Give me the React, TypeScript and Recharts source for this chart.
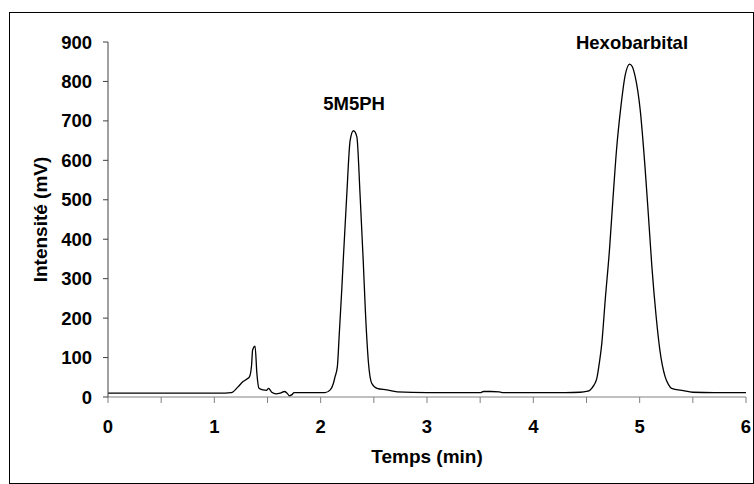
import React from 'react';
import { LineChart, Line, XAxis, YAxis, ReferenceDot } from 'recharts';

const timeMin = [
  0, 0.5, 1.0, 1.1, 1.16, 1.22, 1.27, 1.31, 1.33, 1.35, 1.36, 1.383, 1.4, 1.42, 1.46, 1.49,
  1.51, 1.54, 1.58, 1.62, 1.66, 1.69, 1.705, 1.73, 1.75, 1.9, 2.04, 2.09, 2.12, 2.135, 2.157,
  2.175, 2.198, 2.214, 2.245, 2.277, 2.308, 2.34, 2.37, 2.4, 2.42, 2.45, 2.48, 2.53, 2.62,
  2.72, 3.0, 3.3, 3.5, 3.53, 3.6, 3.68, 3.72, 4.0, 4.3, 4.44, 4.5, 4.535, 4.57, 4.597, 4.62,
  4.644, 4.676, 4.716, 4.748, 4.785, 4.82, 4.864, 4.905, 4.93, 4.958, 5.005, 5.05, 5.083,
  5.115, 5.155, 5.19, 5.24, 5.27, 5.3, 5.41, 5.5, 5.7, 6.0,
];

const intensityMv = [
  10, 10, 10, 10, 11, 25, 39, 46, 51, 80, 119, 129, 60, 22, 18, 17,
  22, 12, 8, 10, 14, 8, 3, 6, 11, 11, 11, 18, 35, 51, 77,
  160, 270, 355, 510, 650, 675, 660, 516, 347, 221, 85, 35, 22, 18,
  13, 11, 11, 11, 14, 14, 13, 11, 11, 11, 12, 14, 18, 30, 47, 85,
  136, 246, 373, 499, 635, 728, 816, 844, 838, 812, 728, 584, 457,
  330, 204, 119, 51, 32, 22, 16, 12, 11, 11,
];

const xTicks = [0, 0.5, 1, 1.5, 2, 2.5, 3, 3.5, 4, 4.5, 5, 5.5, 6];
const yTicks = [0, 100, 200, 300, 400, 500, 600, 700, 800, 900];

const peakLabels = [
  { name: '5M5PH', t: 2.314, v: 743 },
  { name: 'Hexobarbital', t: 4.928, v: 898 },
];

const data = timeMin.map((t, i) => ({ t, v: intensityMv[i] }));

const font = "'Liberation Sans', Arial, sans-serif";
const tickStyle = { fontFamily: font, fontSize: 18.5, fontWeight: 700, fill: '#000' };
const titleStyle = { ...tickStyle, fontSize: 19 };

export default function App() {
  return (
    <div style={{ position: 'absolute', left: 0, top: 0, width: 754, height: 484, background: '#fff' }}>
      <div
        style={{
          position: 'absolute', left: 9, top: 12, width: 743, height: 470,
          border: '1px solid #000',
        }}
      />
      <LineChart
        width={754}
        height={484}
        data={data}
        margin={{ top: 42, right: 8, left: 35, bottom: 57 }}
        style={{ position: 'absolute', left: 0, top: 0 }}
      >
        <XAxis
          dataKey="t"
          type="number"
          domain={[0, 6]}
          ticks={xTicks}
          interval={0}
          tickFormatter={(v: number) => (Number.isInteger(v) ? String(v) : '')}
          stroke="#808080"
          tickSize={6}
          tickMargin={17}
          tick={tickStyle}
          height={30}
          label={{
            value: 'Temps (min)', position: 'bottom', offset: 23,
            style: titleStyle,
          }}
        />
        <YAxis
          type="number"
          domain={[0, 900]}
          ticks={yTicks}
          interval={0}
          stroke="#404040"
          tickSize={5}
          tickMargin={11}
          width={73}
          tick={tickStyle}
          label={{
            value: 'Intensité (mV)', angle: -90, position: 'insideLeft', offset: 5,
            style: { ...titleStyle, textAnchor: 'middle' },
          }}
        />
        {peakLabels.map((p) => (
          <ReferenceDot
            key={p.name}
            x={p.t}
            y={p.v}
            r={0}
            stroke="none"
            label={{ value: p.name, position: 'center', style: tickStyle }}
          />
        ))}
        <Line
          type="monotone"
          dataKey="v"
          stroke="#000"
          strokeWidth={1.3}
          dot={false}
          isAnimationActive={false}
        />
      </LineChart>
    </div>
  );
}
